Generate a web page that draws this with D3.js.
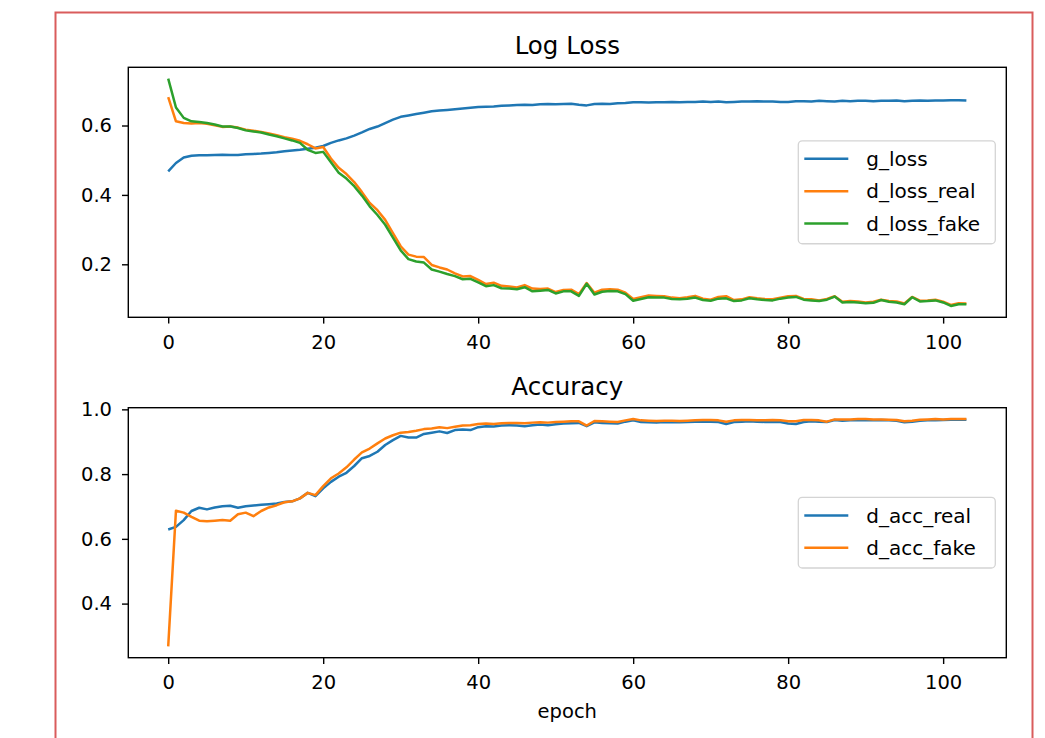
<!DOCTYPE html>
<html>
<head>
<meta charset="utf-8">
<script src="https://cdn.jsdelivr.net/npm/d3@7"></script>
<style>
    body { margin: 0; background: #fff; }
    text { font-family: "DejaVu Sans", sans-serif; fill: #000; }
</style>
</head>
<body>
<svg id="chart" width="1045" height="738"></svg>
<script>
// Training history, one value per epoch (0..103)
const epochs = d3.range(0, 104);

const gLoss = [
    0.468, 0.492, 0.508, 0.513, 0.514, 0.514, 0.515, 0.516, 0.515, 0.515,
    0.517, 0.518, 0.519, 0.521, 0.523, 0.526, 0.528, 0.530, 0.533, 0.536,
    0.541, 0.550, 0.557, 0.563, 0.571, 0.580, 0.590, 0.597, 0.607, 0.617,
    0.625, 0.629, 0.633, 0.637, 0.641, 0.643, 0.645, 0.647, 0.649, 0.651,
    0.653, 0.654, 0.655, 0.657, 0.658, 0.659, 0.660, 0.659, 0.661, 0.662,
    0.661, 0.662, 0.663, 0.660, 0.658, 0.662, 0.663, 0.662, 0.664, 0.665,
    0.667, 0.667, 0.666, 0.667, 0.667, 0.668, 0.667, 0.668, 0.668, 0.669,
    0.668, 0.669, 0.667, 0.668, 0.669, 0.669, 0.670, 0.669, 0.669, 0.668,
    0.668, 0.670, 0.670, 0.669, 0.671, 0.670, 0.669, 0.671, 0.670, 0.671,
    0.671, 0.670, 0.671, 0.671, 0.672, 0.670, 0.671, 0.672, 0.671, 0.672,
    0.672, 0.673, 0.673, 0.672
];

const dLossReal = [
    0.682, 0.612, 0.607, 0.606, 0.607, 0.605, 0.601, 0.596, 0.597, 0.594,
    0.588, 0.585, 0.581, 0.577, 0.572, 0.566, 0.562, 0.556, 0.546, 0.534,
    0.538, 0.505, 0.478, 0.460, 0.437, 0.408, 0.377, 0.356, 0.328, 0.290,
    0.252, 0.228, 0.222, 0.221, 0.198, 0.191, 0.185, 0.174, 0.165, 0.166,
    0.155, 0.143, 0.147, 0.138, 0.136, 0.133, 0.140, 0.130, 0.129, 0.130,
    0.120, 0.126, 0.127, 0.114, 0.146, 0.118, 0.127, 0.128, 0.127, 0.118,
    0.100, 0.105, 0.110, 0.109, 0.108, 0.104, 0.102, 0.105, 0.109, 0.101,
    0.098, 0.106, 0.108, 0.097, 0.099, 0.105, 0.102, 0.100, 0.099, 0.104,
    0.108, 0.109, 0.100, 0.099, 0.096, 0.100, 0.108, 0.092, 0.094, 0.093,
    0.090, 0.092, 0.098, 0.094, 0.093, 0.087, 0.106, 0.095, 0.096, 0.098,
    0.092, 0.083, 0.088, 0.087
];

const dLossFake = [
    0.735, 0.652, 0.622, 0.612, 0.610, 0.607, 0.603, 0.597, 0.597, 0.593,
    0.586, 0.583, 0.580, 0.574, 0.569, 0.563, 0.557, 0.550, 0.530, 0.521,
    0.524, 0.494, 0.464, 0.447, 0.425, 0.398, 0.367, 0.342, 0.314, 0.277,
    0.240, 0.215, 0.208, 0.205, 0.185, 0.179, 0.172, 0.166, 0.157, 0.158,
    0.148, 0.137, 0.140, 0.131, 0.130, 0.128, 0.134, 0.122, 0.124, 0.126,
    0.116, 0.122, 0.122, 0.109, 0.144, 0.113, 0.121, 0.123, 0.122, 0.114,
    0.095, 0.100, 0.105, 0.104, 0.104, 0.100, 0.099, 0.101, 0.104, 0.097,
    0.095, 0.101, 0.102, 0.094, 0.096, 0.102, 0.099, 0.097, 0.096, 0.101,
    0.104, 0.106, 0.098, 0.096, 0.094, 0.098, 0.107, 0.090, 0.091, 0.090,
    0.088, 0.089, 0.097, 0.092, 0.090, 0.085, 0.105, 0.093, 0.094, 0.096,
    0.090, 0.080, 0.085, 0.085
];

const dAccReal = [
    0.629, 0.637, 0.658, 0.686, 0.696, 0.691, 0.697, 0.701, 0.702, 0.696,
    0.701, 0.703, 0.705, 0.707, 0.709, 0.714, 0.716, 0.725, 0.742, 0.732,
    0.756, 0.776, 0.792, 0.804, 0.825, 0.849, 0.856, 0.869, 0.890, 0.905,
    0.918, 0.913, 0.913, 0.924, 0.928, 0.932, 0.927, 0.936, 0.938, 0.936,
    0.945, 0.948, 0.947, 0.950, 0.951, 0.950, 0.948, 0.951, 0.953, 0.951,
    0.954, 0.956, 0.957, 0.958, 0.948, 0.960, 0.958, 0.957, 0.956, 0.962,
    0.966, 0.961, 0.960, 0.959, 0.961, 0.960, 0.960, 0.961, 0.962, 0.962,
    0.962, 0.961, 0.955, 0.961, 0.962, 0.963, 0.962, 0.961, 0.962, 0.961,
    0.956, 0.955, 0.961, 0.963, 0.962, 0.961, 0.967, 0.965, 0.966, 0.966,
    0.967, 0.966, 0.967, 0.966, 0.965, 0.960, 0.962, 0.965, 0.966, 0.966,
    0.967, 0.968, 0.968, 0.968
];

const dAccFake = [
    0.268, 0.687, 0.681, 0.668, 0.656, 0.654, 0.656, 0.658, 0.656, 0.676,
    0.681, 0.670, 0.686, 0.697, 0.704, 0.713, 0.716, 0.725, 0.742, 0.735,
    0.763, 0.787, 0.802, 0.821, 0.845, 0.867, 0.879, 0.895, 0.910, 0.920,
    0.928, 0.930, 0.934, 0.939, 0.941, 0.945, 0.942, 0.946, 0.950, 0.951,
    0.955, 0.956, 0.955, 0.957, 0.958, 0.958, 0.957, 0.959, 0.960, 0.959,
    0.961, 0.962, 0.963, 0.963, 0.950, 0.964, 0.963, 0.962, 0.961, 0.966,
    0.970, 0.966, 0.965, 0.964, 0.965, 0.965, 0.964, 0.965, 0.966, 0.967,
    0.967, 0.966, 0.962, 0.966, 0.967, 0.967, 0.966, 0.966, 0.967, 0.966,
    0.963, 0.963, 0.967, 0.967, 0.966, 0.962, 0.969, 0.969, 0.969, 0.970,
    0.970, 0.969, 0.969, 0.968, 0.967, 0.963, 0.965, 0.968, 0.969, 0.970,
    0.969, 0.970, 0.970, 0.970
];

const epochTicks = [0, 20, 40, 60, 80, 100];
const lossTicks = [0.2, 0.4, 0.6];
const accTicks = [0.4, 0.6, 0.8, 1.0];

const lossSeries = [
    { name: "g_loss", values: gLoss },
    { name: "d_loss_real", values: dLossReal },
    { name: "d_loss_fake", values: dLossFake },
];
const accSeries = [
    { name: "d_acc_real", values: dAccReal },
    { name: "d_acc_fake", values: dAccFake },
];

const colors = ["#1f77b4", "#ff7f0e", "#2ca02c"];

const svg = d3.select("#chart");

// outer frame
svg.append("rect")
    .attr("x", 55.5)
    .attr("y", 12.5)
    .attr("width", 977)
    .attr("height", 780)
    .attr("fill", "none")
    .attr("stroke", "#d95c5c")
    .attr("stroke-width", 2);

// matplotlib style 5% margin around the data
function padded(extent) {
    const m = (extent[1] - extent[0]) * 0.05;
    return [extent[0] - m, extent[1] + m];
}

function drawPanel(top, title, series, yTicks, xLabel) {
    const left = 128.3, right = 1006.3, height = 250;
    const bottom = top + height;

    const x = d3.scaleLinear()
        .domain(padded(d3.extent(epochs)))
        .range([left, right]);

    const allValues = series.flatMap(s => s.values);
    const y = d3.scaleLinear()
        .domain(padded(d3.extent(allValues)))
        .range([bottom, top]);

    const g = svg.append("g");

    const line = d3.line()
        .x((d, i) => x(epochs[i]))
        .y(d => y(d));

    g.selectAll("path.series")
        .data(series)
        .join("path")
            .attr("class", "series")
            .attr("d", d => line(d.values))
            .attr("fill", "none")
            .attr("stroke", (d, i) => colors[i])
            .attr("stroke-width", 2.5)
            .attr("stroke-linejoin", "round");

    // axes
    const xAxis = g.append("g")
        .attr("transform", `translate(0,${bottom})`)
        .call(d3.axisBottom(x).tickValues(epochTicks).tickSize(6.3).tickPadding(11.5).tickFormat(d3.format("d")));
    const yAxis = g.append("g")
        .attr("transform", `translate(${left},0)`)
        .call(d3.axisLeft(y).tickValues(yTicks).tickSize(6.3).tickPadding(10).tickFormat(d3.format(".1f")));

    for (const axis of [xAxis, yAxis]) {
        axis.select(".domain").remove();
        axis.selectAll(".tick line").attr("stroke", "#000").attr("stroke-width", 1.4);
        axis.selectAll(".tick text")
            .attr("fill", "#000")
            .style("font-size", "19.5px")
            .style("font-family", "DejaVu Sans, sans-serif");
    }

    // spines
    g.append("rect")
        .attr("x", left)
        .attr("y", top)
        .attr("width", right - left)
        .attr("height", height)
        .attr("fill", "none")
        .attr("stroke", "#000")
        .attr("stroke-width", 1.4);

    g.append("text")
        .attr("x", (left + right) / 2)
        .attr("y", top - 13)
        .attr("text-anchor", "middle")
        .style("font-size", "24.5px")
        .text(title);

    if (xLabel) {
        g.append("text")
            .attr("x", (left + right) / 2)
            .attr("y", bottom + 60)
            .attr("text-anchor", "middle")
            .style("font-size", "19.5px")
            .text(xLabel);
    }

    // legend, "center right"
    const rowGap = 32.3;
    const boxW = 197, boxH = series.length * rowGap + 6;
    const boxX = right - 11 - boxW;
    const boxY = (top + bottom) / 2 - boxH / 2;

    const legend = g.append("g").attr("transform", `translate(${boxX},${boxY})`);
    legend.append("rect")
        .attr("width", boxW)
        .attr("height", boxH)
        .attr("rx", 4)
        .attr("fill", "#fff")
        .attr("fill-opacity", 0.8)
        .attr("stroke", "#d4d4d4")
        .attr("stroke-width", 1.3);

    const rows = legend.selectAll("g.row")
        .data(series)
        .join("g")
            .attr("class", "row")
            .attr("transform", (d, i) => `translate(0,${18 + i * rowGap})`);
    rows.append("line")
        .attr("x1", 6)
        .attr("x2", 50)
        .attr("stroke", (d, i) => colors[i])
        .attr("stroke-width", 2.5);
    rows.append("text")
        .attr("x", 68)
        .attr("dy", "0.36em")
        .style("font-size", "20px")
        .text(d => d.name);
}

drawPanel(67.3, "Log Loss", lossSeries, lossTicks, null);
drawPanel(407.7, "Accuracy", accSeries, accTicks, "epoch");
</script>
</body>
</html>
